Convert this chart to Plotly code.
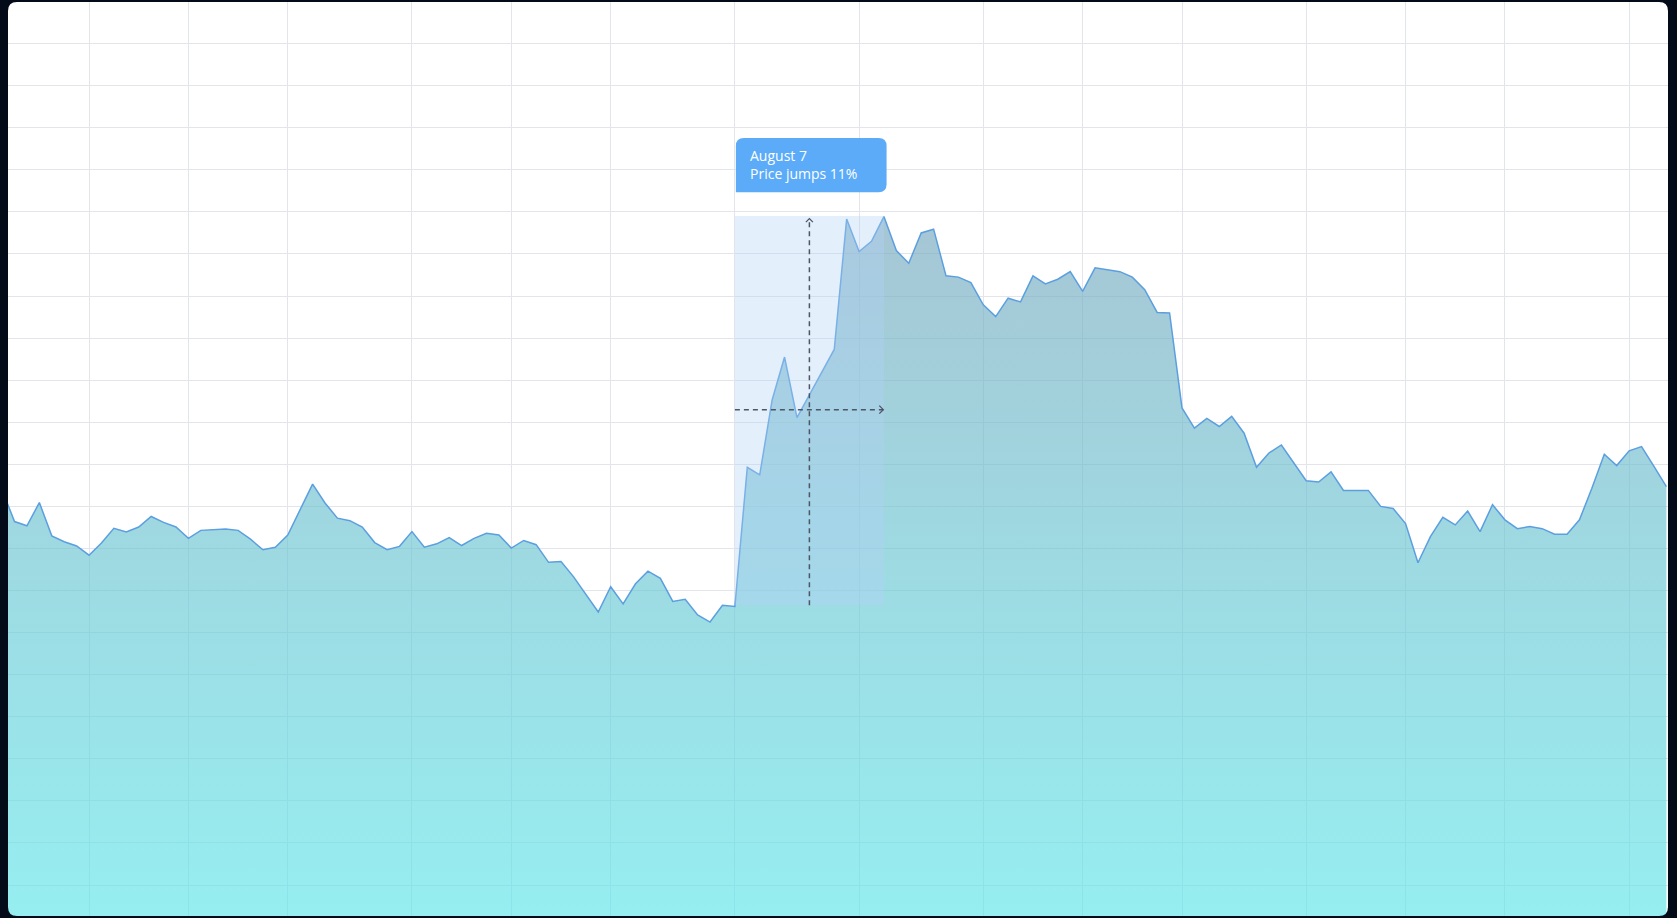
import plotly.graph_objects as go

# ---- data (x = trading-day index, y = price) ----
day_index = list(range(135))
price = [
    93.9, 86.4, 85.4, 90.9, 83.0, 81.6, 80.6, 78.4, 81.3, 84.8,
    83.9, 85.1, 87.6, 86.2, 85.1, 82.4, 84.3, 84.4, 84.6, 84.3,
    82.2, 79.7, 80.3, 83.2, 89.2, 95.3, 90.8, 87.2, 86.6, 85.1,
    81.4, 79.7, 80.5, 84.0, 80.3, 81.1, 82.6, 80.7, 82.4, 83.6,
    83.2, 80.1, 81.9, 80.9, 76.7, 76.9, 73.3, 69.0, 64.9, 70.9,
    66.8, 71.6, 74.6, 72.9, 67.4, 67.9, 64.2, 62.5, 66.5, 66.2,
    99.3, 97.5, 115.3, 125.5, 111.1, 116.5, 122.0, 127.3, 158.3, 150.6,
    153.0, 158.9, 150.8, 147.8, 155.0, 155.9, 144.8, 144.5, 143.2, 137.9,
    135.1, 139.5, 138.6, 144.8, 142.9, 144.0, 145.8, 141.1, 146.7, 146.3,
    145.8, 144.5, 141.5, 136.1, 136.0, 113.4, 108.6, 110.9, 109.0, 111.4,
    107.4, 99.3, 102.7, 104.6, 100.4, 96.1, 95.8, 98.2, 93.8, 93.8,
    93.8, 90.0, 89.5, 85.9, 76.6, 82.8, 87.4, 85.6, 88.9, 84.0,
    90.4, 86.8, 84.7, 85.2, 84.7, 83.4, 83.4, 86.8, 94.3, 102.4,
    99.7, 103.2, 104.2, 99.5, 94.7,
]
assert len(price) == len(day_index)

grid_x = [7, 15, 23, 33, 41, 49, 59, 69, 79, 87, 95, 105, 113, 121, 131]

event_start, event_day, event_end = 59, 65, 71
event_low, event_high, event_mid = 66.5, 159.0, 113.0
event_title = "August 7"
event_text = "Price jumps 11%"

# ---- styles ----
BG = "#040b18"
GRID = "#e4e5ea"
LINE = "#5b9fe0"
DASH = "#4c5665"
TIP = "#5babf9"

fig = go.Figure()

# baseline for the area fill (below the visible range)
fig.add_trace(go.Scatter(
    x=day_index, y=[-20] * len(day_index), mode="lines",
    line=dict(width=0), hoverinfo="skip", showlegend=False,
))
fig.add_trace(go.Scatter(
    x=day_index, y=price, mode="lines",
    line=dict(color=LINE, width=1.5),
    fill="tonexty",
    fillgradient=dict(
        type="vertical",
        start=-7.4, stop=159,
        colorscale=[[0, "rgba(93,229,232,0.65)"], [1, "rgba(118,167,189,0.65)"]],
    ),
    hoverinfo="skip", showlegend=False,
))

shapes = []
# highlight band
shapes.append(dict(type="rect", xref="x", yref="y",
                   x0=event_start, x1=event_end, y0=event_low, y1=event_high,
                   fillcolor="rgba(178,209,247,0.35)", line=dict(width=0), layer="above"))
# crosshair
shapes.append(dict(type="line", xref="x", yref="y",
                   x0=event_day, x1=event_day, y0=event_low, y1=event_high - 0.6,
                   line=dict(color=DASH, width=1.5, dash="5px,4px"), layer="above"))
shapes.append(dict(type="line", xref="x", yref="y",
                   x0=event_start, x1=event_end - 0.05, y0=event_mid, y1=event_mid,
                   line=dict(color=DASH, width=1.5, dash="5px,4px"), layer="above"))
# arrow heads
shapes.append(dict(type="path", xref="x", yref="y",
                   xsizemode="pixel", ysizemode="pixel",
                   xanchor=event_day, yanchor=event_high - 0.6,
                   path="M -3.5,-3.5 L 0,0 L 3.5,-3.5",
                   line=dict(color=DASH, width=1.3), layer="above"))
shapes.append(dict(type="path", xref="x", yref="y",
                   xsizemode="pixel", ysizemode="pixel",
                   xanchor=event_end - 0.05, yanchor=event_mid,
                   path="M -4,4 L 0,0 L -4,-4",
                   line=dict(color=DASH, width=1.3), layer="above"))
# tooltip box (rounded, square bottom-left corner)
shapes.append(dict(type="path", xref="x", yref="y",
                   xsizemode="pixel", ysizemode="pixel",
                   xanchor=event_start, yanchor=177.6,
                   path="M 1,-54.4 L 1,-8 Q 1,0 9,0 L 143.7,0 Q 151.7,0 151.7,-8 "
                        "L 151.7,-46.4 Q 151.7,-54.4 143.7,-54.4 Z",
                   fillcolor=TIP, line=dict(width=0), layer="above"))
# rounded card corners (mask)
rx, ry = 9 / 1660, 9 / 914
for (cx, cy, sx, sy) in [(0, 1, 1, -1), (1, 1, -1, -1), (0, 0, 1, 1), (1, 0, -1, 1)]:
    shapes.append(dict(
        type="path", xref="paper", yref="paper",
        path=f"M {cx},{cy} L {cx + sx*rx},{cy} Q {cx},{cy} {cx},{cy + sy*ry} Z",
        fillcolor=BG, line=dict(width=0), layer="above"))

fig.add_annotation(
    x=event_start, y=171.3, xref="x", yref="y", xshift=13, xanchor="left", yanchor="middle",
    text=f"{event_title}<br>{event_text}", showarrow=False, align="left",
    font=dict(family="Open Sans", size=14, color="white"),
)

fig.update_layout(
    width=1677, height=918,
    margin=dict(l=8, r=9, t=2, b=2),
    paper_bgcolor=BG, plot_bgcolor="white",
    shapes=shapes,
    showlegend=False,
    hovermode=False,
    xaxis=dict(range=[0.475, 134.13], tickvals=grid_x, showticklabels=False,
               showgrid=True, gridcolor=GRID, gridwidth=1, zeroline=False,
               showline=False, ticks="", fixedrange=True),
    yaxis=dict(range=[-7.37, 209.9], dtick=10, tick0=0, showticklabels=False,
               showgrid=True, gridcolor=GRID, gridwidth=1, zeroline=False,
               showline=False, ticks="", fixedrange=True),
)

fig.write_html("out.html", config={"displayModeBar": False})
